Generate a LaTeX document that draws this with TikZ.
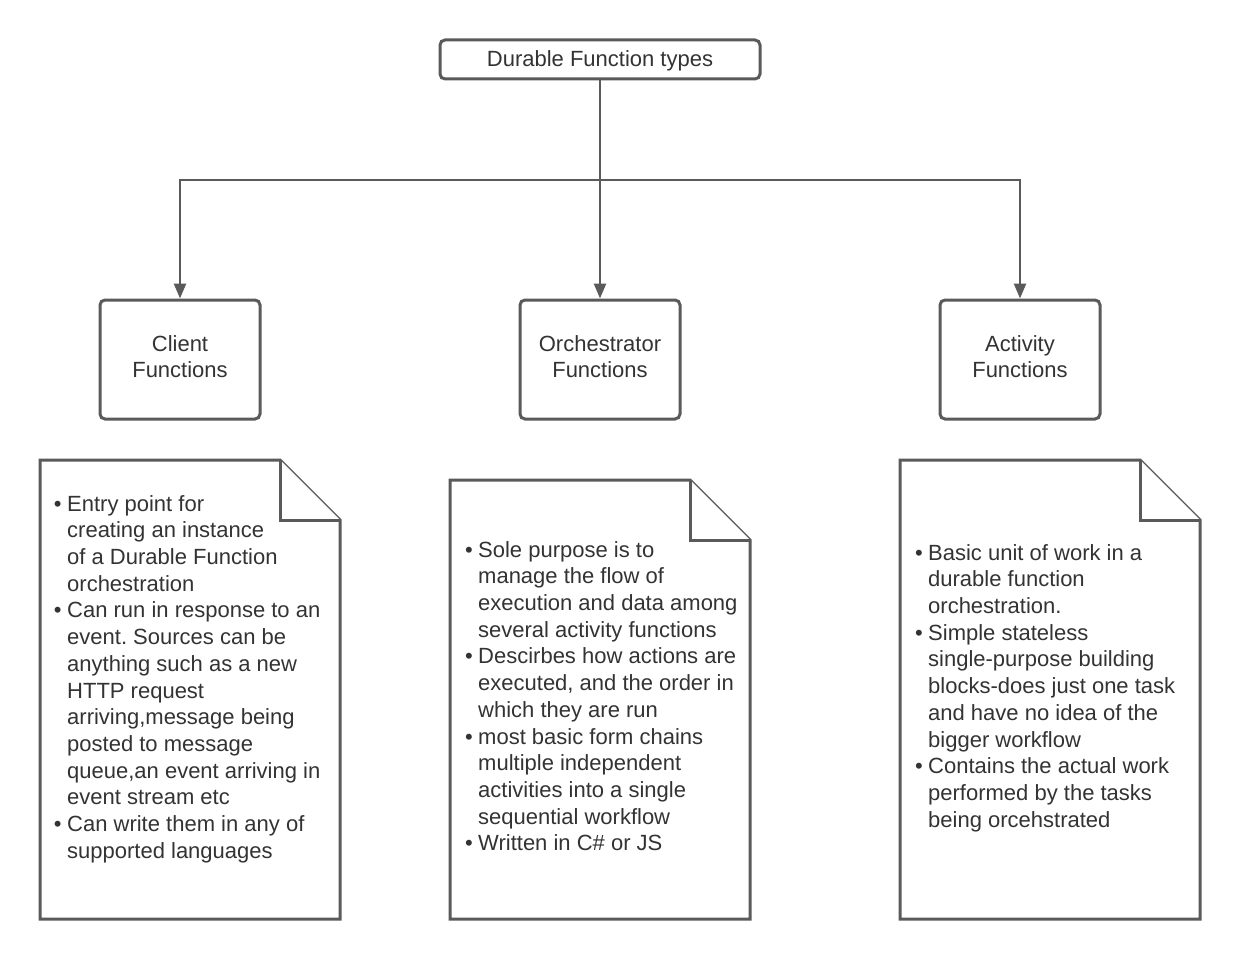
\documentclass[tikz,border=0pt]{standalone}
\usepackage{fontspec}
\setmainfont{Liberation Sans}
\usetikzlibrary{arrows.meta}
\definecolor{ln}{HTML}{5A5A5A}
\definecolor{tx}{HTML}{333333}
\newcommand\bul{\makebox[0pt][r]{•\hspace{5.5pt}}}
\frenchspacing
\begin{document}
\begin{tikzpicture}[x=1pt,y=-1pt,
 box/.style={draw=ln, line width=3pt, rounded corners=5pt, inner sep=0pt},
 lbl/.style={inner sep=0pt, font=\fontsize{22}{26.7}\selectfont, text=tx, align=center},
 arr/.style={draw=ln, line width=2.5pt, -{Triangle[width=12pt,length=15pt]}},
 note/.style={draw=ln, line width=3pt, fill=white, line join=miter},
 notetext/.style={anchor=north west, inner sep=0pt, align=left, text=tx, font=\fontsize{22}{26.7}\selectfont}]
\useasboundingbox (0,0) rectangle (1240,960);
\fill[white] (0,0) rectangle (1240,960);

\node[box, minimum width=320pt, minimum height=39pt] (top) at (600,59.5) {};
\node[lbl] (topl) at (600,61) {Durable Function types};
\node[box, minimum width=160pt, minimum height=119pt] (client) at (180,359.5) {};
\node[lbl] (clientl) at (180,356.5) {Client\\Functions};
\node[box, minimum width=160pt, minimum height=119pt] (orch) at (600,359.5) {};
\node[lbl] (orchl) at (600,356.5) {Orchestrator\\Functions};
\node[box, minimum width=160pt, minimum height=119pt] (act) at (1020,359.5) {};
\node[lbl] (actl) at (1020,356.5) {Activity\\Functions};

\coordinate (junc) at (600,180);
\draw[arr] (top.south) -- (orch.north);
\draw[arr] (junc) -| (client.north);
\draw[arr] (junc) -| (act.north);

% notes
\draw[note] (40,460) -- (280,460) -- (340,520) -- (340,919) -- (40,919) -- cycle;
\draw[note] (280,460) -- (280,520) -- (340,520);
\draw[note] (450,480) -- (690,480) -- (750,540) -- (750,919) -- (450,919) -- cycle;
\draw[note] (690,480) -- (690,540) -- (750,540);
\draw[note] (900,460) -- (1140,460) -- (1200,520) -- (1200,919) -- (900,919) -- cycle;
\draw[note] (1140,460) -- (1140,520) -- (1200,520);

\node[notetext] (ctext) at (67,492.3) {\strut\bul Entry point for\\
creating an instance\\
of a Durable Function\\
orchestration\\
\bul Can run in response to an\\
event. Sources can be\\
anything such as a new\\
HTTP request\\
arriving,message being\\
posted to message\\
queue,an event arriving in\\
event stream etc\\
\bul Can write them in any of\\
supported languages};

\node[notetext] (otext) at (478,538.3) {\strut\bul Sole purpose is to\\
manage the flow of\\
execution and data among\\
several activity functions\\
\bul Descirbes how actions are\\
executed, and the order in\\
which they are run\\
\bul most basic form chains\\
multiple independent\\
activities into a single\\
sequential workflow\\
\bul Written in C\# or JS};

\node[notetext] (atext) at (928,541.3) {\strut\bul Basic unit of work in a\\
durable function\\
orchestration.\\
\bul Simple stateless\\
single-purpose building\\
blocks-does just one task\\
and have no idea of the\\
bigger workflow\\
\bul Contains the actual work\\
performed by the tasks\\
being orcehstrated};
\end{tikzpicture}
\end{document}
